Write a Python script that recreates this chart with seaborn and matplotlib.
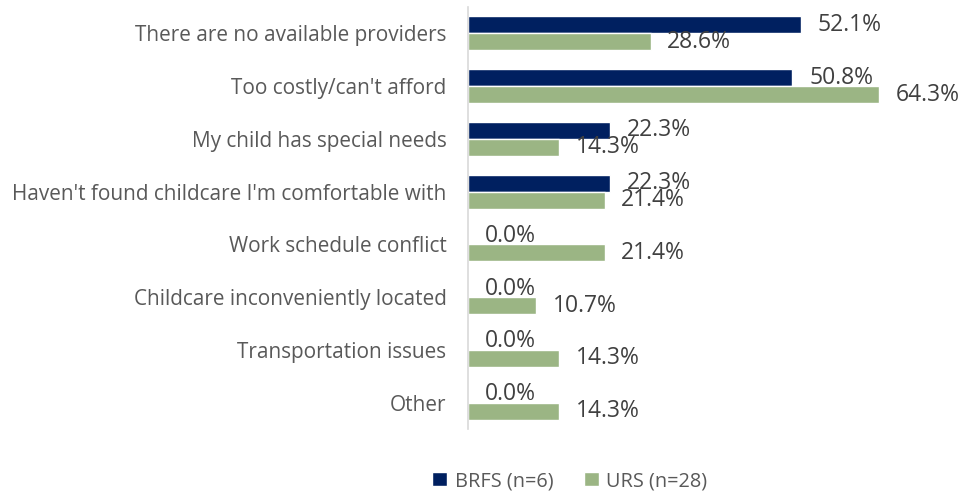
import pandas as pd
import matplotlib.pyplot as plt
import seaborn as sns

categories = [
    "There are no available providers",
    "Too costly/can't afford",
    "My child has special needs",
    "Haven't found childcare I'm comfortable with",
    "Work schedule conflict",
    "Childcare inconveniently located",
    "Transportation issues",
    "Other",
]
brfs = [52.1, 50.8, 22.3, 22.3, 0.0, 0.0, 0.0, 0.0]
urs = [28.6, 64.3, 14.3, 21.4, 21.4, 10.7, 14.3, 14.3]
series = ["BRFS (n=6)", "URS (n=28)"]
colors = ["#002060", "#9BB584"]

df = pd.DataFrame({
    "Reason": categories * 2,
    "Pct": brfs + urs,
    "Group": [series[0]] * len(categories) + [series[1]] * len(categories),
})

sns.set_style("white")
plt.rcParams["font.family"] = ["Open Sans", "DejaVu Sans"]

fig = plt.figure(figsize=(9.61, 4.92), dpi=100)
ax = fig.add_axes([468 / 961, 1 - 429 / 492, (915 - 468) / 961, (429 - 7) / 492])

sns.barplot(data=df, y="Reason", x="Pct", hue="Group", palette=colors,
            orient="h", width=0.64, ax=ax, saturation=1, legend=True)

for cont in ax.containers:
    ax.bar_label(cont, fmt="%.1f%%", padding=12, fontsize=16.5, color="#404040")

ax.set_xlim(0, 70)
ax.set_xlabel("")
ax.set_ylabel("")
ax.set_xticks([])
ax.tick_params(axis="y", length=0, pad=15.5, labelsize=14.95, labelcolor="#595959")
for s in ["top", "right", "bottom"]:
    ax.spines[s].set_visible(False)
ax.spines["left"].set_color("#D9D9D9")
ax.spines["left"].set_linewidth(1.2)

handles, labels = ax.get_legend_handles_labels()
ax.legend_.remove()
fig.legend(handles, labels, loc="center", bbox_to_anchor=(570 / 961, 1 - 481 / 492),
           ncol=2, frameon=False, fontsize=14.3, labelcolor="#595959",
           handlelength=0.75, handleheight=0.75, handletextpad=0.4, columnspacing=1.5)

fig.savefig("out.png", dpi=100)
